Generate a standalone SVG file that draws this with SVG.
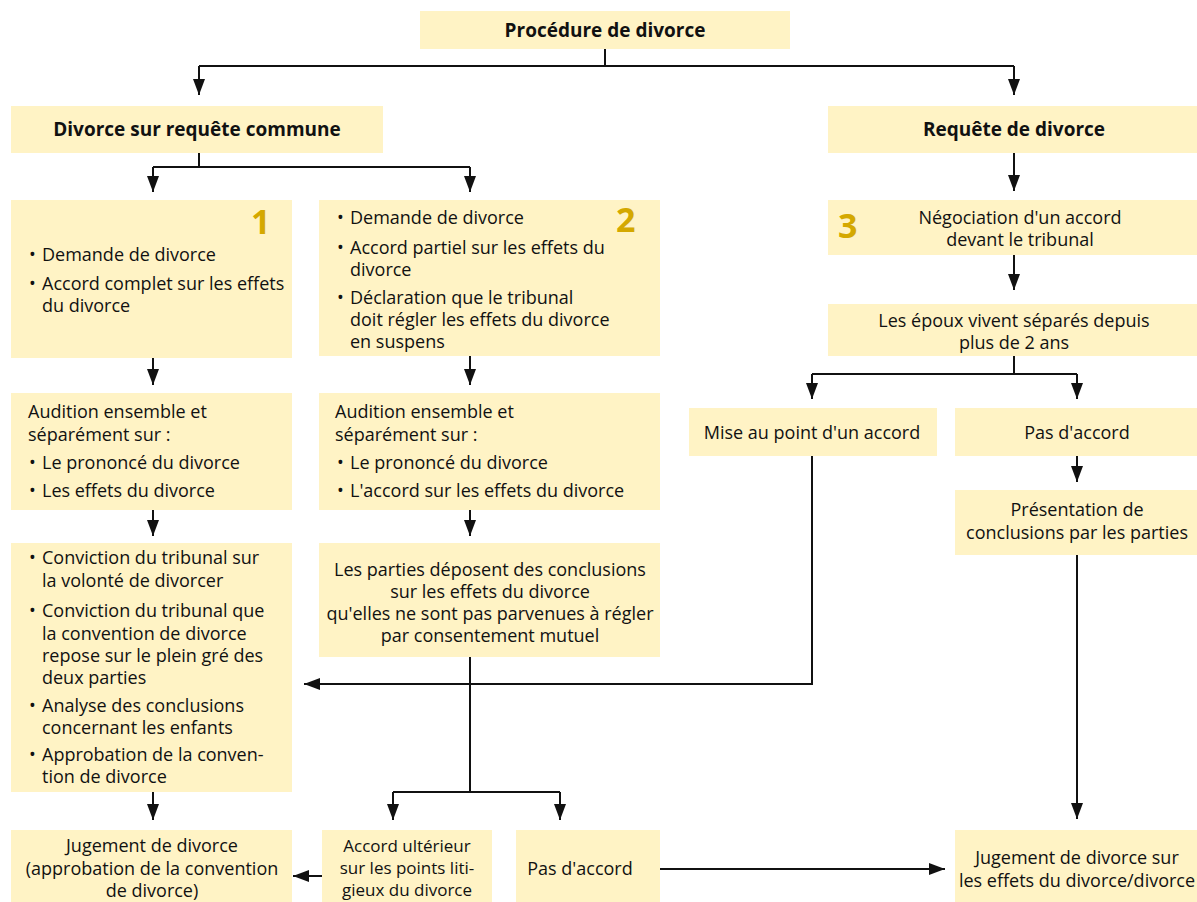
<svg xmlns="http://www.w3.org/2000/svg" width="1197" height="902" viewBox="0 0 1197 902">
<defs>
<style>
.box{fill:#FFF3C5;}
text{font-family:"Open Sans","Noto Sans",sans-serif;font-size:18px;fill:#111;}
.b{font-weight:bold;font-size:19px;}
.c{text-anchor:middle;}
.s{font-size:17px;}
.num{font-size:34px;font-weight:bold;fill:#D4A800;}
.ln{fill:none;stroke:#111;stroke-width:2;}
</style>
<marker id="ah" viewBox="0 0 16 12" refX="16" refY="6" markerWidth="16" markerHeight="12" markerUnits="userSpaceOnUse" orient="auto">
<path d="M0,0 L16,6 L0,12 z" fill="#111"/>
</marker>
</defs>
<rect width="1197" height="902" fill="#fff"/>

<g id="connectors">
<path class="ln" d="M605,49 V66 M199,66 H1014"/>
<path class="ln" d="M199,66 V95" marker-end="url(#ah)"/>
<path class="ln" d="M1014,66 V95" marker-end="url(#ah)"/>
<path class="ln" d="M199,153 V167 M153,167 H470"/>
<path class="ln" d="M153,167 V192" marker-end="url(#ah)"/>
<path class="ln" d="M470,167 V192" marker-end="url(#ah)"/>
<path class="ln" d="M1014,153 V191" marker-end="url(#ah)"/>
<path class="ln" d="M153,358 V385" marker-end="url(#ah)"/>
<path class="ln" d="M470,356 V385" marker-end="url(#ah)"/>
<path class="ln" d="M153,510 V536" marker-end="url(#ah)"/>
<path class="ln" d="M470,510 V536" marker-end="url(#ah)"/>
<path class="ln" d="M153,792 V820" marker-end="url(#ah)"/>
<path class="ln" d="M470,657 V792 M393,792 H560"/>
<path class="ln" d="M393,792 V820" marker-end="url(#ah)"/>
<path class="ln" d="M560,792 V820" marker-end="url(#ah)"/>
<path class="ln" d="M322,876 H293" marker-end="url(#ah)"/>
<path class="ln" d="M660,869 H945" marker-end="url(#ah)"/>
<path class="ln" d="M1014,255 V290" marker-end="url(#ah)"/>
<path class="ln" d="M1014,356 V374 M812,374 H1077"/>
<path class="ln" d="M812,374 V399" marker-end="url(#ah)"/>
<path class="ln" d="M1077,374 V399" marker-end="url(#ah)"/>
<path class="ln" d="M1077,456 V482" marker-end="url(#ah)"/>
<path class="ln" d="M1077,555 V819" marker-end="url(#ah)"/>
<path class="ln" d="M812,456 V684 H304" marker-end="url(#ah)"/>
</g>

<g id="n-procedure">
<rect class="box" x="420" y="11" width="370" height="38"/>
<text class="b c" x="605" y="37">Procédure de divorce</text>
</g>

<g id="n-commune">
<rect class="box" x="11" y="106" width="372" height="47"/>
<text class="b c" x="197" y="136">Divorce sur requête commune</text>
</g>

<g id="n-requete">
<rect class="box" x="828" y="106" width="369" height="47"/>
<text class="b c" x="1014" y="136">Requête de divorce</text>
</g>

<g id="n-1">
<rect class="box" x="11" y="200" width="281" height="158"/>
<text class="num" x="251" y="234">1</text>
<text x="29" y="261">•</text><text x="42" y="261">Demande de divorce</text>
<text x="29" y="290">•</text><text x="42" y="290">Accord complet sur les effets</text>
<text x="42" y="312">du divorce</text>
</g>

<g id="n-2">
<rect class="box" x="319" y="200" width="341" height="156"/>
<text class="num" x="616" y="232">2</text>
<text x="337" y="224">•</text><text x="350" y="224">Demande de divorce</text>
<text x="337" y="254">•</text><text x="350" y="254">Accord partiel sur les effets du</text>
<text x="350" y="276">divorce</text>
<text x="337" y="304">•</text><text x="350" y="304">Déclaration que le tribunal</text>
<text x="350" y="326">doit régler les effets du divorce</text>
<text x="350" y="348">en suspens</text>
</g>

<g id="n-3">
<rect class="box" x="828" y="200" width="369" height="55"/>
<text class="num" x="838" y="238">3</text>
<text class="c" x="1020" y="224">Négociation d'un accord</text>
<text class="c" x="1020" y="246">devant le tribunal</text>
</g>

<g id="n-separes">
<rect class="box" x="828" y="304" width="369" height="52"/>
<text class="c" x="1014" y="327">Les époux vivent séparés depuis</text>
<text class="c" x="1014" y="349">plus de 2 ans</text>
</g>

<g id="n-mise">
<rect class="box" x="689" y="408" width="248" height="48"/>
<text class="c" x="812" y="439">Mise au point d'un accord</text>
</g>

<g id="n-pas-r">
<rect class="box" x="955" y="408" width="242" height="48"/>
<text class="c" x="1077" y="439">Pas d'accord</text>
</g>

<g id="n-presentation">
<rect class="box" x="955" y="490" width="242" height="65"/>
<text class="c" x="1077" y="516">Présentation de</text>
<text class="c" x="1077" y="539">conclusions par les parties</text>
</g>

<g id="n-audition1">
<rect class="box" x="11" y="393" width="281" height="117"/>
<text x="28" y="418">Audition ensemble et</text>
<text x="28" y="441">séparément sur :</text>
<text x="29" y="469">•</text><text x="42" y="469">Le prononcé du divorce</text>
<text x="29" y="497">•</text><text x="42" y="497">Les effets du divorce</text>
</g>

<g id="n-audition2">
<rect class="box" x="319" y="393" width="341" height="117"/>
<text x="335" y="418">Audition ensemble et</text>
<text x="335" y="441">séparément sur :</text>
<text x="337" y="469">•</text><text x="350" y="469">Le prononcé du divorce</text>
<text x="337" y="497">•</text><text x="350" y="497">L'accord sur les effets du divorce</text>
</g>

<g id="n-conviction">
<rect class="box" x="11" y="543" width="281" height="249"/>
<text x="29" y="564">•</text><text x="42" y="564">Conviction du tribunal sur</text>
<text x="42" y="587">la volonté de divorcer</text>
<text x="29" y="617">•</text><text x="42" y="617">Conviction du tribunal que</text>
<text x="42" y="640">la convention de divorce</text>
<text x="42" y="662">repose sur le plein gré des</text>
<text x="42" y="684">deux parties</text>
<text x="29" y="712">•</text><text x="42" y="712">Analyse des conclusions</text>
<text x="42" y="734">concernant les enfants</text>
<text x="29" y="761">•</text><text x="42" y="761">Approbation de la conven-</text>
<text x="42" y="783">tion de divorce</text>
</g>

<g id="n-deposent">
<rect class="box" x="319" y="543" width="341" height="114"/>
<text class="c" x="490" y="576">Les parties déposent des conclusions</text>
<text class="c" x="490" y="598">sur les effets du divorce</text>
<text class="c" x="490" y="620">qu'elles ne sont pas parvenues à régler</text>
<text class="c" x="490" y="642">par consentement mutuel</text>
</g>

<g id="n-jugement1">
<rect class="box" x="11" y="830" width="281" height="72"/>
<text class="c" x="152" y="852">Jugement de divorce</text>
<text class="c" x="152" y="875">(approbation de la convention</text>
<text class="c" x="152" y="897">de divorce)</text>
</g>

<g id="n-ulterieur">
<rect class="box" x="322" y="830" width="170" height="72"/>
<text class="c s" x="407" y="852">Accord ultérieur</text>
<text class="c s" x="407" y="874">sur les points liti-</text>
<text class="c s" x="407" y="896">gieux du divorce</text>
</g>

<g id="n-pas-b">
<rect class="box" x="516" y="830" width="144" height="72"/>
<text class="c" x="580" y="875">Pas d'accord</text>
</g>

<g id="n-jugement2">
<rect class="box" x="955" y="830" width="242" height="72"/>
<text class="c" x="1077" y="864">Jugement de divorce sur</text>
<text class="c" x="1077" y="887">les effets du divorce/divorce</text>
</g>
</svg>
